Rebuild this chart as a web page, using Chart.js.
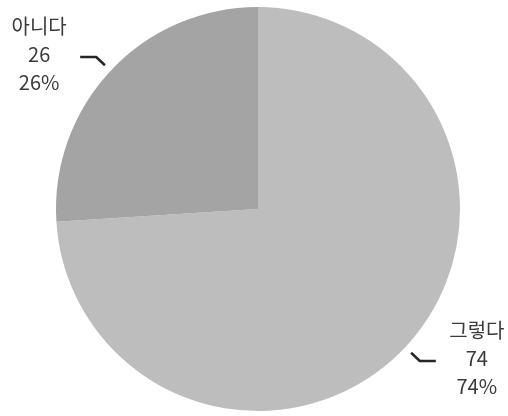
<!DOCTYPE html>
<html>
<head>
<meta charset="utf-8">
<script src="https://cdn.jsdelivr.net/npm/chart.js@4/dist/chart.umd.min.js"></script>
<style>
  html, body { margin: 0; padding: 0; background: #fff; }
  #wrap { width: 508px; height: 416px; }
</style>
</head>
<body>
<div id="wrap"><canvas id="pieChart"></canvas></div>
<script>
const categories = ['그렇다', '아니다'];
const counts = [74, 26];
const sliceColors = ['#bdbdbd', '#a4a4a4'];

// labels outside the pie: name, count and percent, with a short bent leader
const outsideLabels = {
  id: 'outsideLabels',
  afterDatasetsDraw(chart) {
    const ctx = chart.ctx;
    const meta = chart.getDatasetMeta(0);
    const total = counts.reduce((a, b) => a + b, 0);
    meta.data.forEach((arc, i) => {
      const { x, y, startAngle, endAngle, outerRadius } = arc.getProps(['x', 'y', 'startAngle', 'endAngle', 'outerRadius'], true);
      const mid = (startAngle + endAngle) / 2;
      const cos = Math.cos(mid), sin = Math.sin(mid);
      const p1 = { x: x + cos * (outerRadius + 8), y: y + sin * (outerRadius + 8) };
      const p2 = { x: x + cos * (outerRadius + 20), y: y + sin * (outerRadius + 20) };
      const dir = cos >= 0 ? 1 : -1;
      const p3 = { x: p2.x + dir * 16, y: p2.y };

      ctx.save();
      ctx.strokeStyle = '#262626';
      ctx.lineWidth = 2.5;
      ctx.lineJoin = 'round';
      ctx.beginPath();
      ctx.moveTo(p1.x, p1.y);
      ctx.lineTo(p2.x, p2.y);
      ctx.lineTo(p3.x, p3.y);
      ctx.stroke();

      const tx = p3.x + dir * 41;
      const ty = p3.y - 3;
      const pct = Math.round(counts[i] / total * 100) + '%';
      ctx.fillStyle = '#3a3a3a';
      ctx.font = '20px "Noto Sans CJK KR", "Noto Sans", sans-serif';
      ctx.textAlign = 'center';
      ctx.textBaseline = 'middle';
      ctx.fillText(categories[i], tx, ty - 28);
      ctx.fillText(String(counts[i]), tx, ty);
      ctx.fillText(pct, tx, ty + 28);
      ctx.restore();
    });
  }
};

new Chart(document.getElementById('pieChart'), {
  type: 'pie',
  data: {
    labels: categories,
    datasets: [{
      data: counts,
      backgroundColor: sliceColors,
      borderWidth: 0
    }]
  },
  options: {
    responsive: true,
    maintainAspectRatio: false,
    animation: false,
    layout: { padding: { top: 7, bottom: 5, left: 56, right: 48 } },
    plugins: {
      legend: { display: false },
      tooltip: { enabled: false }
    }
  },
  plugins: [outsideLabels]
});
</script>
</body>
</html>
